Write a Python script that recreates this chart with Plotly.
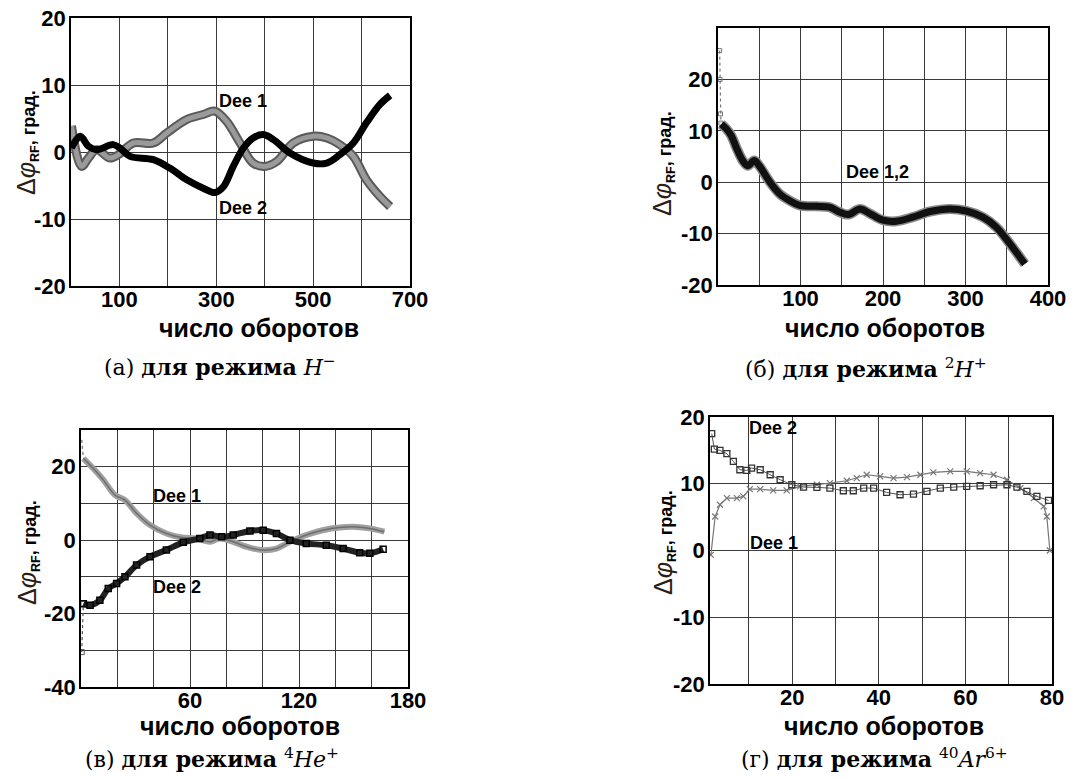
import plotly.graph_objects as go

W, H = 1073, 778

# ---------------- data ----------------
# (а) H-
a_dee1_x = [1, 22, 36, 53, 80, 98, 129, 170, 198, 239, 273, 297, 321, 349, 376, 400, 425, 459, 500, 528, 555, 583, 610, 638, 659]
a_dee1_y = [3.9, -2.15, -0.9, 0.35, -0.9, -0.4, 1.35, 1.35, 2.85, 4.85, 5.6, 6.1, 4.6, 1.35, -1.65, -2.15, -1.4, 1.35, 2.35, 2.1, 1.1, -0.65, -4.15, -6.65, -8.15]
a_dee2_x = [1, 19, 36, 53, 87, 101, 122, 170, 204, 239, 273, 297, 315, 335, 356, 376, 397, 418, 452, 500, 528, 555, 583, 610, 638, 659]
a_dee2_y = [0.6, 2.35, 0.85, 0.35, 1.1, 0.6, -0.65, -1.15, -2.4, -4.15, -5.4, -6.05, -5.15, -2.15, 0.6, 2.1, 2.6, 1.85, -0.15, -1.65, -1.65, -0.4, 1.35, 4.35, 7.1, 8.45]

# (б) 2H+
b_spike_x = [2, 2.5, 3, 3.5]
b_spike_y = [25.6, 20.0, 13.3, 11.5]
b_dee_x = [4, 10, 16, 22, 30, 36, 44, 50, 63, 75, 87, 99, 119, 135, 147, 158, 172, 184, 200, 216, 236, 257, 281, 301, 321, 337, 354, 366, 372]
b_dee_y = [11.3, 10.4, 9.1, 6.8, 4.2, 3.2, 4.2, 3.2, 0.0, -2.3, -3.6, -4.5, -4.7, -4.85, -5.8, -6.3, -5.2, -6.1, -7.4, -7.6, -6.8, -5.7, -5.2, -5.6, -6.8, -8.7, -12.0, -14.6, -15.9]

# (в) 4He+
c_dee1_x = [0.4, 1.3, 6.8, 12.3, 18.7, 24.2, 30.6, 38, 47, 55.4, 63.6, 71, 76.4, 83.8, 91.1, 99.4, 107.6, 115, 124, 133, 142.4, 151.6, 159, 167]
c_dee1_y = [27.3, 22.3, 19.5, 16.4, 12.3, 10.9, 7.3, 4.1, 1.8, 0.7, 0.45, -0.45, 0.45, -0.45, -1.8, -2.7, -2.3, -0.45, 1.4, 2.7, 3.45, 3.6, 3.2, 2.3]
c_dee2_x = [0.4, 1.3, 5, 10.4, 15, 19.6, 24.2, 30.6, 38, 47, 56.3, 65.4, 71, 77.4, 83.8, 93, 100.3, 107.6, 115, 124, 135, 144.3, 153.4, 159, 166.3]
c_dee2_y = [-30.5, -17.3, -17.7, -16.4, -13.2, -11.8, -10.0, -6.8, -4.5, -2.7, -0.6, 0.45, 1.4, 0.9, 1.4, 2.5, 2.7, 1.8, 0.0, -0.9, -1.4, -2.3, -3.45, -3.6, -2.5]

# (г) 40Ar6+
d_dee2_x = [1.4, 2, 3.3, 4.9, 6.4, 7.9, 9.5, 10.6, 12.6, 14.9, 17.2, 19.9, 22.6, 25.7, 28.7, 31.8, 34.1, 36.5, 38.8, 41.8, 44.9, 48, 51.1, 54.2, 57.3, 60.3, 63.4, 66.5, 69.6, 71.9, 74.2, 76.5, 79.2]
d_dee2_y = [17.5, 15.2, 15.0, 14.5, 13.35, 12.1, 12.0, 12.35, 12.1, 11.35, 10.6, 9.85, 9.5, 9.45, 9.35, 8.95, 8.95, 9.35, 9.35, 8.7, 8.35, 8.45, 8.85, 9.35, 9.5, 9.6, 9.7, 9.85, 9.85, 9.5, 8.85, 8.1, 7.5]
d_dee1_x = [1.2, 2.2, 3.3, 4.9, 7.2, 8.7, 10.2, 12.6, 15.6, 18.7, 21.8, 25.7, 28.7, 32.6, 34.9, 37.2, 40.3, 43.4, 46.5, 49.6, 52.6, 56.5, 60.3, 63.4, 66.5, 69.6, 72.7, 75.8, 78.1, 78.8, 79.5]
d_dee1_y = [-0.65, 5.1, 6.85, 7.85, 7.85, 8.1, 9.2, 9.2, 9.0, 9.0, 9.6, 9.85, 10.1, 10.45, 10.85, 11.35, 11.1, 10.85, 11.0, 11.35, 11.7, 11.85, 11.85, 11.6, 11.35, 10.6, 9.35, 7.85, 6.6, 5.1, 0.0]

# axis ticks: (grid values, labelled values)
a_xgrid, a_xlab = list(range(0, 701, 100)), [100, 300, 500, 700]
a_ygrid, a_ylab = list(range(-20, 21, 10)), [-20, -10, 0, 10, 20]
b_xgrid, b_xlab = list(range(0, 401, 50)), [100, 200, 300, 400]
b_ygrid, b_ylab = list(range(-20, 31, 10)), [-20, -10, 0, 10, 20]
c_xgrid, c_xlab = list(range(0, 181, 20)), [60, 120, 180]
c_ygrid, c_ylab = list(range(-40, 31, 10)), [-40, -20, 0, 20]
d_xgrid, d_xlab = list(range(10, 81, 10)), [20, 40, 60, 80]
d_ygrid, d_ylab = list(range(-20, 21, 10)), [-20, -10, 0, 10, 20]

captions = [
    "(а) <b>для режима</b> <i>H</i><sup>−</sup>",
    "(б) <b>для режима</b> <sup>2</sup><i>H</i><sup>+</sup>",
    "(в) <b>для режима</b> <sup>4</sup><i>He</i><sup>+</sup>",
    "(г) <b>для режима</b> <sup>40</sup><i>Ar</i><sup>6+</sup>",
]

# ---------------- layout helpers ----------------
def px_dom_x(l, r):
    return [l / W, r / W]

def px_dom_y(t, b):
    return [1 - b / H, 1 - t / H]

SANS = "Liberation Sans, Arial, sans-serif"
SERIF = "DejaVu Serif, serif"
GRID = "#3a3a3a"

fig = go.Figure()

def add(x, y, ax, **kw):
    fig.add_trace(go.Scatter(x=x, y=y, xaxis="x" + ax, yaxis="y" + ax, showlegend=False,
                             hoverinfo="skip", **kw))

# (а)
add(a_dee1_x, a_dee1_y, "", mode="lines", line=dict(color="#5a5a5a", width=9, shape="spline", smoothing=1.0))
add(a_dee1_x, a_dee1_y, "", mode="lines", line=dict(color="#9a9a9a", width=5, shape="spline", smoothing=1.0))
add(a_dee2_x, a_dee2_y, "", mode="lines", line=dict(color="#000000", width=7, shape="spline", smoothing=1.0))

# (б)
add(b_spike_x, b_spike_y, "2", mode="lines+markers", line=dict(color="#777777", width=1.2, dash="dot"),
    marker=dict(symbol="square-open", size=4, color="#777777"))
add(b_dee_x, b_dee_y, "2", mode="lines", line=dict(color="#8a8a8a", width=10, shape="spline", smoothing=1.0))
add(b_dee_x, b_dee_y, "2", mode="lines", line=dict(color="#111111", width=7, shape="spline", smoothing=1.0))

# (в)
add(c_dee1_x[:2], c_dee1_y[:2], "3", mode="lines", line=dict(color="#888888", width=1.5, dash="dot"))
add(c_dee1_x[1:], c_dee1_y[1:], "3", mode="lines", line=dict(color="#a0a0a0", width=6, shape="spline", smoothing=1.0))
add(c_dee1_x[1:], c_dee1_y[1:], "3", mode="lines", line=dict(color="#6e6e6e", width=1.5, shape="spline", smoothing=1.0))
add(c_dee2_x[:2], c_dee2_y[:2], "3", mode="lines+markers", line=dict(color="#555555", width=1.2, dash="dot"),
    marker=dict(symbol="square-open", size=5, color="#555555"))
add(c_dee2_x[1:], c_dee2_y[1:], "3", mode="lines", line=dict(color="#222222", width=6, shape="spline", smoothing=1.0))
add(c_dee2_x[1:], c_dee2_y[1:], "3", mode="markers", marker=dict(symbol="square-open", size=6, color="#000000", line=dict(width=1.5)))

# (г)
add(d_dee1_x, d_dee1_y, "4", mode="lines+markers", line=dict(color="#777777", width=1.2),
    marker=dict(symbol="x-thin", size=6, color="#777777", line=dict(width=1.2, color="#777777")))
add(d_dee2_x, d_dee2_y, "4", mode="lines+markers", line=dict(color="#555555", width=1),
    marker=dict(symbol="square-open", size=6, color="#333333", line=dict(width=1.3)))

def axis_pair(suffix, dom_x, dom_y, xr, yr, xgrid, xlab, ygrid, ylab):
    common = dict(showgrid=True, gridcolor=GRID, gridwidth=1, zeroline=False,
                  showline=True, linecolor="#000000", linewidth=1.5, mirror=True,
                  ticks="", tickfont=dict(family=SANS, size=22, color="#000000"),
                  tickmode="array", automargin=False)
    xa = dict(common, domain=dom_x, range=xr, tickvals=xlab,
              ticktext=["<b>%d</b>" % v for v in xlab],
              minor=dict(tickvals=[v for v in xgrid if v not in xlab], showgrid=True,
                         gridcolor=GRID, gridwidth=1, ticks=""),
              anchor="y" + suffix, ticklabelstandoff=-7)
    ya = dict(common, domain=dom_y, range=yr, tickvals=ylab,
              ticktext=["<b>%d</b>" % v for v in ylab],
              minor=dict(tickvals=[v for v in ygrid if v not in ylab], showgrid=True,
                         gridcolor=GRID, gridwidth=1, ticks=""),
              anchor="x" + suffix, ticklabelstandoff=-1)
    fig.update_layout(**{"xaxis" + suffix: xa, "yaxis" + suffix: ya})

axis_pair("", px_dom_x(71, 410), px_dom_y(18, 286), [0, 700], [-20, 20], a_xgrid, a_xlab, a_ygrid, a_ylab)
axis_pair("2", px_dom_x(718, 1048), px_dom_y(28, 285), [0, 400], [-20, 30], b_xgrid, b_xlab, b_ygrid, b_ylab)
axis_pair("3", px_dom_x(81, 408), px_dom_y(430, 687), [0, 180], [-40, 30], c_xgrid, c_xlab, c_ygrid, c_ylab)
axis_pair("4", px_dom_x(710, 1052), px_dom_y(417, 684), [1, 80], [-20, 20], d_xgrid, d_xlab, d_ygrid, d_ylab)

ann = []

def text_px(x, y, text, size, family=SANS, angle=0, color="#000000"):
    ann.append(dict(x=x / W, y=1 - y / H, xref="paper", yref="paper", text=text, showarrow=False,
                    textangle=angle, font=dict(family=family, size=size, color=color),
                    xanchor="center", yanchor="middle"))

ytitle = ('<span style="font-size:25px;color:#2a2016">Δ<i>φ</i></span>'
          '<sub><b>RF</b></sub><b>, град.</b>')
xtitle = "<b>число оборотов</b>"

# (а)
text_px(259, 328, xtitle, 25)
text_px(27, 143, ytitle, 18, angle=-90)
text_px(243, 101, "<b>Dee 1</b>", 18)
text_px(243, 208, "<b>Dee 2</b>", 18)
text_px(220, 366, captions[0], 22, family=SERIF)
# (б)
text_px(885, 328, xtitle, 25)
text_px(663, 164, ytitle, 18, angle=-90)
text_px(878, 172, "<b>Dee 1,2</b>", 18)
text_px(866, 368, captions[1], 22, family=SERIF)
# (в)
text_px(240, 726, xtitle, 25)
text_px(28, 553, ytitle, 18, angle=-90)
text_px(177, 496, "<b>Dee 1</b>", 18)
text_px(177, 587, "<b>Dee 2</b>", 18)
text_px(212, 758, captions[2], 22, family=SERIF)
# (г)
text_px(884, 726, xtitle, 25)
text_px(664, 543, ytitle, 18, angle=-90)
text_px(773, 428, "<b>Dee 2</b>", 18)
text_px(774, 543, "<b>Dee 1</b>", 18)
text_px(874, 758, captions[3], 22, family=SERIF)

fig.update_layout(width=W, height=H, margin=dict(l=0, r=0, t=0, b=0),
                  paper_bgcolor="white", plot_bgcolor="white", annotations=ann)

fig.write_html("out.html")
